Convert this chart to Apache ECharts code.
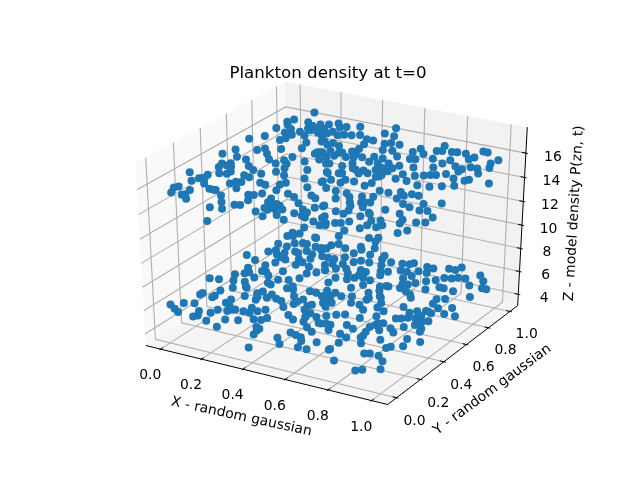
<!DOCTYPE html>
<html><head><meta charset="utf-8">
<style>html,body{margin:0;padding:0;background:#fff}#c{width:640px;height:480px}</style>
<script src="https://cdn.jsdelivr.net/npm/echarts@6/dist/echarts.min.js"></script>
</head><body><div id="c"></div>
<script>
const chartTitle = "Plankton density at t=0";
const xTitle = "X - random gaussian";
const yTitle = "Y - random gaussian";
const zTitle = "Z - model density P(zn, t)";
const xTicks = [0, 0.2, 0.4, 0.6, 0.8, 1.0];
const yTicks = [0, 0.2, 0.4, 0.6, 0.8, 1.0];
const zTicks = [4, 6, 8, 10, 12, 14, 16];
const xLimits = [-0.05, 1.05];
const yLimits = [-0.05, 1.05];
const zLimits = [3.3, 17.8];
const zUpperLayer = 15.48;
const zLowerLayer = 5.48;
// [x, y] of the plankton in each density layer
const upperLayer = [[.03,1.14],[0,1.02],[-.01,.98],[.01,.95],[-.01,.89],[0,.78],[-.04,.72],[.05,.86],[.05,.91],[.08,.77],[.09,.80],[.09,.85],[.10,.90],[.07,1.02],[.11,.95],[.11,.99],[.13,1.02],[.17,.98],[.20,.91],[.25,.85],[.14,.87],[.19,.80],[.21,.73],[.14,.68],[.06,.62],[.08,.65],[.12,.60],[.16,.55],[.23,.62],[.29,.72],[.30,.73],[.29,.70],[.34,.65],[.35,.69],[.30,.60],[.36,.52],[.45,.53],[.40,.43],[.48,.43],[.53,.38],[-.04,.51],[-.02,.58],[.03,.51],[.08,.50],[.13,.44],[.05,.43],[.02,.41],[.03,.37],[.10,.35],[.10,.32],[.07,.31],[-.04,.26],[.04,.23],[.04,.27],[.02,.18],[.08,.18],[.17,.41],[.17,.34],[.22,.39],[.20,.33],[.21,.52],[.26,.44],[.22,.57],[.25,.54],[.27,.49],[.31,.42],[.36,.35],[.35,.32],[.37,.26],[.27,.30],[.30,.29],[.20,.27],[.22,.20],[.17,.23],[.13,.14],[.16,.14],[.21,.10],[.25,.04],[.01,.10],[0,.08],[.02,.03],[.07,.09],[.07,.03],[.11,0],[.08,.04],[.24,-.03],[.29,-.02],[.31,.04],[.33,.05],[.31,-.16],[.42,.02],[.47,-.01],[.45,.06],[.30,.16],[.33,.11],[.32,.17],[.34,.20],[.40,.17],[.41,.13],[.43,.07],[.45,.13],[.51,.03],[.50,.09],[.43,.25],[.47,.23],[.46,.35],[.52,.28],[.55,.26],[.52,.18],[.57,.13],[.60,.17],[.62,.20],[.56,.08],[.62,.06],[.56,0],[.67,.04],[.71,.02],[.72,.05],[.67,-.03],[.66,-.10],[.66,-.14],[.76,-.10],
[.16,1.04],[.19,1.07],[.22,1.03],[.24,1.05],[.29,1.08],[.43,1.14],[.22,.97],[.26,.94],[.28,.96],[.31,.97],[.34,.99],[.42,1.06],[.47,1.05],[.39,.96],[.42,.96],[.48,.95],[.50,.97],[.54,.97],[.29,.85],[.33,.83],[.41,.90],[.42,.84],[.51,.88],[.55,.89],[.60,.84],[.63,.92],[.64,.97],[.68,.92],[.71,.98],[.71,1.05],[.73,.99],[.77,1.00],[.79,1.01],[.88,1.07],[.90,1.07],[.83,1.01],[.88,.99],[.87,.96],[.98,1.01],[.97,.96],[.99,.91],[.37,.72],[.41,.80],[.42,.73],[.48,.76],[.52,.79],[.53,.73],[.56,.79],[.61,.75],[.66,.75],[.66,.84],[.68,.85],[.74,.89],[.81,.91],[.80,.86],[.79,.80],[.86,.86],[.90,.84],[.92,.88],[.95,.88],[.98,.83],[.72,.76],[.46,.63],[.48,.68],[.53,.62],[.56,.63],[.60,.66],[.62,.69],[.65,.71],[.49,.55],[.50,.56],[.59,.61],[.64,.59],[.65,.62],[.72,.61],[.72,.67],[.77,.61],[.77,.68],[.80,.70],[.82,.72],[.84,.73],[.87,.76],[.92,.73],[.96,.66],[.90,.81],[.97,.73],[.98,.75],[1.07,.75],[.88,.60],[.92,.63],[.50,.47],[.55,.46],[.55,.50],[.59,.50],[.65,.48],[.66,.52],[.83,.59],[.73,.46],[.77,.46],[.81,.49],[.58,.37],[.62,.30],[.63,.37],[.70,.37],[.74,.39],[.83,.42],[.84,.46],[.86,.49],[.89,.49],[.74,.32],[.69,.29],[.88,.38],[.92,.36],[1.01,.46],[.95,.42],[.97,.35],[1.00,.36],[1.05,.31],[.69,.18],[.73,.21],[.73,.17],[.85,.29],[.92,.28],[.80,.18],[.82,.22],[.96,.23],[.97,.19],[1.02,.23],[1.05,.25],[.86,.16],[.89,.18],[.86,.07],[.79,.11],[.77,.08],[.75,.07],[.87,.11],[.91,.11],[.92,.14],[.82,.02],[.83,-.04],[1.03,.14],[1.01,.10],[.94,0],[.97,.02],[.98,-.02],[1.01,-.08],
[.20,.93],[.24,.84],[.28,.82],[.33,.76],[.31,.73],[.39,.62],[.40,.63],[.44,.54],[.48,.44],[.38,.77],[.37,.76],[.45,.74],[.44,.78],[.51,.63],[.56,.59],[.57,.73],[.61,.69],[.65,.67],[.65,.60],[.73,.31],[.76,.27],[.76,.33],[.81,.23],[.62,.21],[.68,.11],[.73,.03],[.66,.34],[.71,.26],[.14,.96],[.17,.93],[.17,.96],[.21,.94],[.13,.94],[.47,.08],[.47,.12],[.43,.12],[.60,.07],[.60,.11],[.68,.09],[.07,.40],[.05,.40],[.18,.26],[.05,.23],[.03,.22],[.15,.14]];
const lowerLayer = [[0,1.00],[.01,1.04],[.10,1.03],[-.01,.89],[.04,.88],[.05,.93],[.08,.95],[.10,.95],[.15,.94],[.19,.92],[.20,.95],[0,.79],[.02,.82],[.07,.81],[.10,.85],[.14,.88],[.18,.86],[.23,.86],[.26,.86],[-.06,.71],[0,.68],[.09,.70],[.11,.75],[.16,.78],[.20,.81],[.07,.65],[.02,.59],[.09,.59],[.14,.56],[.17,.63],[.18,.72],[.24,.73],[.27,.66],[.30,.69],[.32,.73],[.04,.53],[.10,.51],[.09,.45],[-.06,.41],[-.02,.42],[.01,.50],[.04,.44],[.20,.54],[.18,.49],[.24,.56],[.27,.60],[.08,.37],[.13,.40],[.17,.32],[0,.26],[0,.24],[.05,.32],[.06,.26],[.06,.24],[.20,.48],[.28,.48],[.31,.48],[.20,.37],[.26,.35],[.30,.36],[.35,.42],[.40,.41],[.38,.50],[.41,.50],[.49,.46],[.23,.31],[.14,.26],[.14,.22],[.33,.35],[.39,.35],[.45,.36],[.46,.38],[.52,.39],[-.05,.09],[-.01,.06],[.02,.04],[-.01,.13],[.03,.15],[.09,.09],[.11,.05],[.10,.03],[.14,.10],[.17,.02],[.15,.14],[.19,.15],[.21,.18],[.25,.18],[.26,.23],[.32,.24],[.37,.30],[.37,.17],[.36,.14],[.28,.09],[.23,.07],[.33,.13],[.43,.24],[.47,.21],[.50,.26],[.54,.28],[.24,-.01],[.38,.07],[.40,.06],[.52,.21],[.56,.17],[.58,.23],[.61,.24],[.41,0],[.40,.04],[.60,.14],[.53,.09],[.56,.08],[.59,.07],[.51,.02],[.55,-.03],[.61,.04],[.67,-.02],[.63,-.02],[.67,.06],[.46,-.12],[.75,.02],
[.22,1.02],[.20,.99],[.27,.99],[.32,1.04],[.34,1.01],[.33,.96],[.40,.98],[.46,1.00],[.47,.96],[.32,.90],[.29,.86],[.31,.81],[.35,.83],[.38,.87],[.40,.90],[.44,.90],[.35,.77],[.39,.79],[.45,.81],[.48,.80],[.50,.90],[.52,.95],[.57,.96],[.60,.97],[.61,.99],[.60,.89],[.63,.89],[.67,.92],[.68,.98],[.71,.98],[.71,.92],[.77,1.01],[.80,1.01],[.81,1.05],[.53,.84],[.56,.85],[.47,.72],[.45,.69],[.50,.74],[.54,.73],[.40,.68],[.40,.62],[.55,.80],[.67,.86],[.65,.82],[.75,.84],[.78,.87],[.80,.91],[.83,.92],[.85,.94],[.88,.95],[.92,1.01],[.96,.96],[.83,.81],[.85,.81],[.61,.69],[.64,.71],[.69,.72],[.70,.77],[.72,.80],[.79,.76],[.90,.80],[.93,.89],[.99,.78],[.99,.89],[1.01,.89],[.51,.62],[.48,.54],[.48,.50],[.52,.52],[.60,.61],[.63,.65],[.73,.70],[.78,.65],[.88,.69],[.91,.71],[.89,.64],[.98,.64],[.56,.54],[.63,.54],[.59,.48],[.52,.44],[.70,.54],[.75,.47],[.63,.48],[.67,.44],[.71,.49],[.80,.55],[.85,.51],[.87,.54],[.90,.56],[.93,.55],[.98,.57],[1.03,.57],[.60,.34],[.63,.36],[.75,.41],[.70,.36],[.83,.43],[.85,.44],[.87,.46],[.91,.50],[.96,.47],[.63,.24],[.69,.27],[.73,.25],[.78,.30],[.81,.36],[.86,.33],[.83,.29],[.90,.37],[.93,.41],[.97,.39],[.71,.18],[.79,.25],[.89,.30],[.98,.36],[.75,.16],[.80,.19],[.75,.10],[.88,.21],[.97,.27],[1.03,.27],[.95,.17],[.94,.15],[.99,.20],[.83,.14],[.75,.03],[.89,.06],[.91,.07],[.95,.07],[.99,.03],[1.02,-.04],[.82,-.06],[.94,-.10],[.96,-.08],
[.29,.78],[.32,.73],[.18,.94],[.57,.31],[.45,.48],[.49,.42],[.59,.23],[.65,.19],[.46,.49],[.42,.75],[.47,.76],[.54,.67],[.63,.56],[.66,.60],[.63,.71],[.67,.59],[.68,.76],[.76,.68],[.72,.71],[.91,.56],[.93,.61],[.94,.45],[.90,.47],[.79,.33],[.79,.35],[.80,.21],
[.05,.78],[.08,.76],[.12,.84],[.19,.76],[.11,.59],[.05,.55],[.22,.34],[.21,.40],[.26,.39],[.29,.51],[.39,.38],[.50,.30],[.50,.26],[.46,.32],[.30,.21],[.28,.18],[.20,.17],[.17,.20],[.12,.41],[.48,.46],[.44,.54]];

// matplotlib's default 3D view: elevation 30, azimuth -60, distance 10
const DIST = 10;
const U = [0.8660, 0.5, 0];
const V = [-0.25, 0.4330, 0.8660];
const N = [0.4330, -0.75, 0.5];
function project(wx, wy, wz) {
  const d = [wx - .5, wy - .5, wz - .5];
  const dot = a => a[0]*d[0] + a[1]*d[1] + a[2]*d[2];
  const w = DIST - dot(N);
  return [dot(U)/w, dot(V)/w];
}
const norm = (v, lim) => (v - lim[0]) / (lim[1] - lim[0]);
const wX = v => norm(v, xLimits), wY = v => norm(v, yLimits), wZ = v => norm(v, zLimits);
const B0 = -1/48, B1 = 49/48;

const panes = [
  {color:'#f9f9f9', pts:[[B0,B0,B0],[B0,B1,B0],[B0,B1,B1],[B0,B0,B1]]},
  {color:'#f2f2f2', pts:[[B0,B1,B0],[B1,B1,B0],[B1,B1,B1],[B0,B1,B1]]},
  {color:'#f5f5f5', pts:[[B0,B0,B0],[B1,B0,B0],[B1,B1,B0],[B0,B1,B0]]}
];
const gridLines = [];
xTicks.forEach(t => { const a = wX(t); gridLines.push([[a,B0,B0],[a,B1,B0],[a,B1,B1]]); });
yTicks.forEach(t => { const a = wY(t); gridLines.push([[B1,a,B0],[B0,a,B0],[B0,a,B1]]); });
zTicks.forEach(t => { const a = wZ(t); gridLines.push([[B0,B0,a],[B0,B1,a],[B1,B1,a]]); });
const axisLines = [
  [[B0,B0,B0],[B1,B0,B0]],
  [[B1,B0,B0],[B1,B1,B0]],
  [[B1,B1,B0],[B1,B1,B1]]
];
const OUT = .1/12, INN = .2/12;
xTicks.forEach(t => { const a = wX(t); axisLines.push([[a,B0-OUT,B0],[a,B0+INN,B0]]); });
yTicks.forEach(t => { const a = wY(t); axisLines.push([[B1+OUT,a,B0],[B1-INN,a,B0]]); });
zTicks.forEach(t => { const a = wZ(t); axisLines.push([[B1+OUT,B1,a],[B1-INN,B1,a]]); });

const L = .075, LT = .17, LZ = .15, TICK_DY = 6.5;
const texts = [];
xTicks.forEach(t => texts.push({p:[wX(t),B0-L,B0-L], s:t.toFixed(1), r:0, dx:0, dy:TICK_DY}));
yTicks.forEach(t => texts.push({p:[B1+L,wY(t),B0-L], s:t.toFixed(1), r:0, dx:0, dy:TICK_DY}));
zTicks.forEach(t => texts.push({p:[B1+L,B1+L,wZ(t)], s:String(t), r:0, dx:0, dy:TICK_DY}));
texts.push({p:[.5,B0-LT,B0-LT], s:xTitle, r:-12.2*Math.PI/180, dx:1, dy:-3});
texts.push({p:[B1+LT,.5,B0-LT], s:yTitle, r:36.5*Math.PI/180, dx:-2, dy:-1});
texts.push({p:[B1+LZ,B1+LZ,.5], s:zTitle, r:86.7*Math.PI/180, dx:-1, dy:0});

const polyItem = (pts, api) => pts.map(p => api.coord(project(p[0],p[1],p[2])));
const scatterData = (rows, z) => rows.map(r => project(wX(r[0]), wY(r[1]), wZ(z)));

const chart = echarts.init(document.getElementById('c'), null, {renderer:'canvas'});
chart.setOption({
  animation:false,
  backgroundColor:'#fff',
  title:{text:chartTitle, left:323, textAlign:'center', top:60,
    textStyle:{fontFamily:'DejaVu Sans', fontSize:16.67, fontWeight:'normal', color:'#000'}},
  grid:{left:80, top:57.6, width:496, height:369.6, containLabel:false},
  xAxis:{type:'value', min:-0.095, max:0.09, show:false},
  yAxis:{type:'value', min:-0.095, max:0.09, show:false},
  series:[
    {type:'custom', z:1, silent:true, coordinateSystem:'cartesian2d', data:panes.map((_,i)=>[i]), clip:false,
     renderItem:(p,api)=>({type:'polygon', shape:{points:polyItem(panes[p.dataIndex].pts,api)}, style:{fill:panes[p.dataIndex].color, stroke:null}})},
    {type:'custom', z:2, silent:true, coordinateSystem:'cartesian2d', data:gridLines.map((_,i)=>[i]), clip:false,
     renderItem:(p,api)=>({type:'polyline', shape:{points:polyItem(gridLines[p.dataIndex],api)}, style:{fill:null, stroke:'#b0b0b0', lineWidth:1.1}})},
    {type:'custom', z:3, silent:true, coordinateSystem:'cartesian2d', data:axisLines.map((_,i)=>[i]), clip:false,
     renderItem:(p,api)=>({type:'polyline', shape:{points:polyItem(axisLines[p.dataIndex],api)}, style:{fill:null, stroke:'#000', lineWidth:1}})},
    {type:'scatter', z:4, silent:true, symbol:'circle', symbolSize:8, itemStyle:{color:'#1f77b4', opacity:1}, data:scatterData(upperLayer,zUpperLayer), clip:false},
    {type:'scatter', z:4, silent:true, symbol:'circle', symbolSize:8, itemStyle:{color:'#1f77b4', opacity:1}, data:scatterData(lowerLayer,zLowerLayer), clip:false},
    {type:'custom', z:5, silent:true, coordinateSystem:'cartesian2d', data:texts.map((_,i)=>[i]), clip:false,
     renderItem:(p,api)=>{const t=texts[p.dataIndex]; const c=api.coord(project(t.p[0],t.p[1],t.p[2]));
       return {type:'text', x:c[0]+t.dx, y:c[1]+t.dy, rotation:t.r, style:{text:t.s, textAlign:'center', textVerticalAlign:'middle', fill:'#000', font:'13.9px "DejaVu Sans"'}};}}
  ]
});
</script></body></html>
